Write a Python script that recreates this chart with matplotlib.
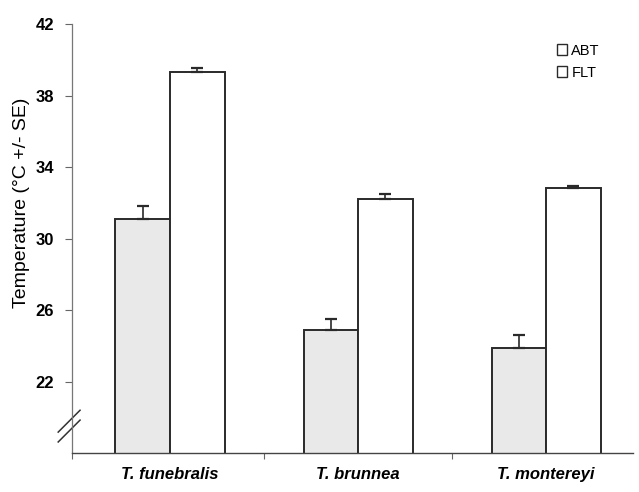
import numpy as np
import matplotlib.pyplot as plt

plt.rcParams['font.family'] = ['Liberation Sans', 'DejaVu Sans']

species = ["T. funebralis", "T. brunnea", "T. montereyi"]
abt = [31.1, 24.9, 23.9]
abt_se = [0.7, 0.6, 0.7]
flt = [39.3, 32.2, 32.85]
flt_se = [0.25, 0.3, 0.1]
yticks = [22, 26, 30, 34, 38, 42]

fig = plt.figure(figsize=(6.39, 4.92), dpi=100)
ax = fig.add_axes([0.113, 0.079, 0.877, 0.872])

x = np.arange(len(species))
w = 0.29
edge = "#2a2a2a"
ax.bar(x - w / 2, abt, w, bottom=0, color="#e9e9e9", edgecolor=edge, linewidth=1.4,
       label="ABT", zorder=2)
ax.bar(x + w / 2, flt, w, bottom=0, color="white", edgecolor=edge, linewidth=1.4,
       label="FLT", zorder=2)
ax.errorbar(x - w / 2, abt, yerr=[np.zeros(3), abt_se], fmt="none", ecolor=edge,
            elinewidth=1.2, capsize=4, capthick=1.6, zorder=3)
ax.errorbar(x + w / 2, flt, yerr=[np.zeros(3), flt_se], fmt="none", ecolor=edge,
            elinewidth=1.2, capsize=4, capthick=1.6, zorder=3)

ax.set_ylim(18, 42)
ax.set_xlim(-0.52, 2.46)
ax.set_yticks(yticks)
ax.set_yticklabels([str(t) for t in yticks], fontweight="bold", fontsize=12)
ax.set_xticks(x)
ax.set_xticklabels(species, fontstyle="italic", fontweight="bold", fontsize=12)
ax.tick_params(axis="x", length=0, pad=10)
ax.set_xticks([-0.52, 0.5, 1.5], minor=True)
ax.tick_params(axis="x", which="minor", length=4, width=0.8, color="#666666")
ax.tick_params(axis="y", length=5, width=0.8, color="#666666", pad=8)
ax.set_ylabel("Temperature (°C +/- SE)", fontsize=14)
ax.yaxis.set_label_coords(-0.075, 0.583)

for s in ["top", "right"]:
    ax.spines[s].set_visible(False)
ax.spines["left"].set_color("#777777")
ax.spines["left"].set_linewidth(0.9)
ax.spines["bottom"].set_color("#444444")
ax.spines["bottom"].set_linewidth(1.0)

# axis break marks
for dy in (0.0, 0.023):
    ax.plot([-0.025, 0.014], [0.026 + dy, 0.077 + dy], transform=ax.transAxes,
            color="#333333", linewidth=1.1, clip_on=False)

leg = ax.legend(loc="upper right", bbox_to_anchor=(0.965, 0.985), frameon=False,
                handlelength=0.7, handleheight=0.7, handletextpad=0.3,
                labelspacing=0.55, fontsize=10.5)
for h in leg.legend_handles:
    h.set_facecolor("white")
    h.set_linewidth(1.0)

fig.savefig("out.png", dpi=100)
